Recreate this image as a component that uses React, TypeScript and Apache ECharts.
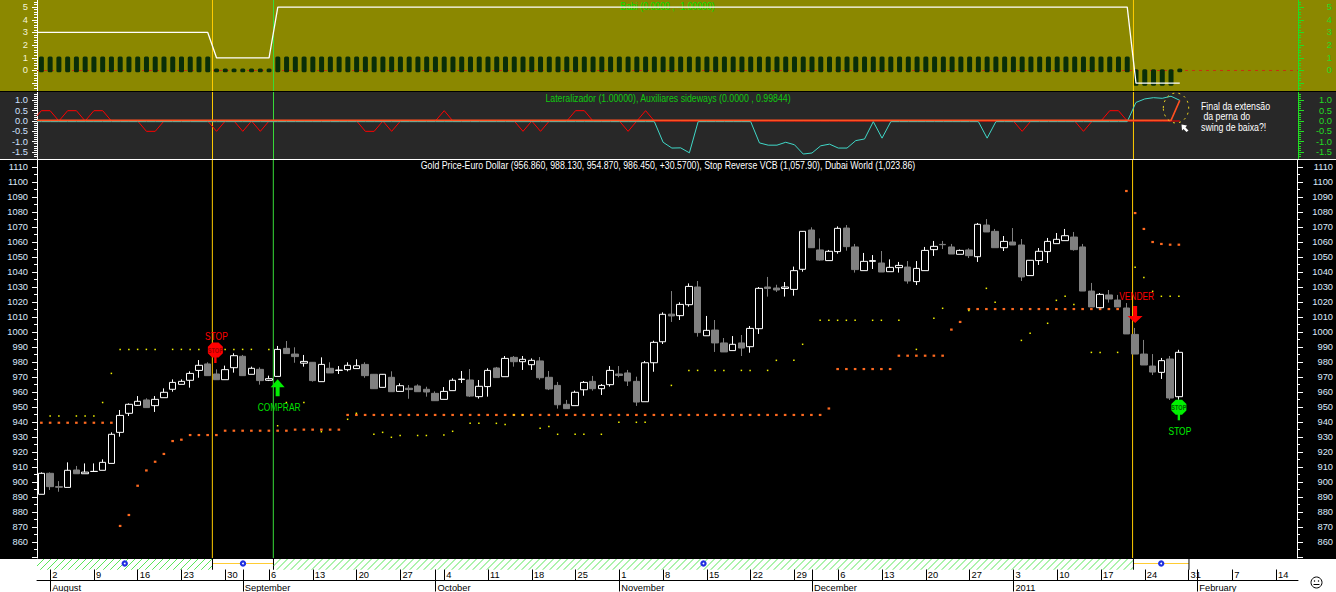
import React, { useEffect, useRef } from "react";
import * as echarts from "echarts";

const FONT = "'Liberation Sans', Arial, sans-serif";
const BAR_SLOTS = 144;

// [open, close, low, high] per trading day, from 2010-07-30
const candles: number[][] = [
  [891.8,905.8,891.8,906.4],[905.8,896.9,894.7,906.4],[896.9,896.5,893.5,900.6],[896.4,907.8,896.4,913.1],[908,905.5,905.5,910.7],
  [905.5,906.6,905.5,912.4],[907,907.1,907,912.4],[907.8,913.1,907.8,915.1],[912.4,931.8,912.4,933.1],[933.1,944.4,930.2,948],
  [945.8,951.8,944,952.4],[951.1,953.8,950.7,957.3],[954.7,949.6,949.6,955.8],[950.9,955.1,946.7,957.3],[956.2,959.8,956.2,962.4],
  [961.8,966.4,960.2,968.4],[965.1,967.1,965.1,968.4],[967.8,972.4,962.9,973.8],[974.4,977.8,969.5,981.3],[978.7,970.9,970.9,979.8],
  [972,968.2,968.2,975.1],[968.2,974.9,968.2,977.6],[976.2,984.2,972.9,985.8],[983.8,970.9,970.9,984.7],[971.8,975.8,971.8,976.9],
  [975.1,967.6,964.9,976.4],[967.8,968.9,967.3,970.9],[970.4,988.4,970.4,990.7],[989.1,985.6,985.6,994],[985.3,983.6,979.5,989.8],
  [979.2,980.4,976.9,984.7],[979.8,967.6,966.9,980],[966.9,978.4,966.9,983.1],[975.8,972.7,972.7,979.8],[974.4,974.6,972,977.3],
  [974.9,977.8,973.8,979.8],[975.6,977.5,975.6,981.8],[978.4,970.9,969.5,979.8],[971.8,962.2,962,972],[963.1,971.8,963,972],
  [969.8,960.2,960.2,973.8],[960.4,964.2,960.4,965.8],[962.5,961.6,955.5,964.6],[964,960.2,960.2,965.1],[961.8,960,956.9,963.5],
  [959.1,954.2,954,960.4],[955.1,960.4,955.1,963.3],[960.9,967.8,960.9,969.1],[968.3,968.6,966,974],[968,957.3,956.7,975.3],
  [956.9,963.8,955.6,968],[963.6,974.4,956.9,975.8],[976,969.6,969.6,976.7],[970.2,982.4,970.2,984],[983.1,980.2,976.9,984],
  [980.2,981.8,974.7,984],[978.2,981.1,974.7,982.4],[980.7,969.5,968.2,983.3],[969.8,962,961.3,974],[964.4,951.5,948.9,966.7],
  [951.8,948.9,948.9,954.7],[950.9,959.8,950.9,960.9],[961.5,966.4,957.5,967.3],[967.1,962.2,960.9,970.7],[962.2,964.4,958,965.3],
  [964.9,974.4,963.6,977.3],[972,971,969.8,977.3],[972.7,967.3,964,974.7],[967.1,953.3,950.7,970.2],[953.5,979.5,953.5,980.7],
  [979.5,993.1,973.5,994.2],[993.5,1011.8,992,1013.1],[1011.9,1010.7,1006.7,1027.3],[1010.9,1018.4,1008,1019.8],[1018.2,1030.4,1016.9,1032.4],
  [1030,999.6,996.9,1034],[997.5,1001.1,997.5,1010.7],[1001.3,992.7,986.7,1008],[992.7,986.7,986.7,996],[987.6,991.8,987.6,997.3],
  [992.7,989.3,984,998],[990.2,1002.4,986.2,1004],[1002.2,1029.1,998.7,1030],[1030,1029,1023.6,1036.7],[1029.3,1028,1026.7,1031.5],
  [1029,1030,1023.6,1033.3],[1028.4,1040.9,1024.2,1043.6],[1041.8,1067.1,1040.2,1067.3],[1068,1056.2,1056,1069.8],[1054.7,1048,1047.6,1062.4],
  [1047.6,1053.8,1047.6,1054.7],[1053.6,1069.1,1052.2,1070.4],[1069.3,1056.9,1054.2,1071.3],[1056.7,1041.6,1039.6,1058.7],[1040.9,1047.1,1040.9,1052.7],
  [1047.1,1047.6,1042,1051.3],[1046,1040,1040,1054],[1040.2,1043.1,1040.2,1048.4],[1042.9,1044.4,1039.6,1046.7],[1043.3,1034,1032.2,1047.3],
  [1033.6,1042.4,1031.3,1047.3],[1040.9,1054.4,1040.9,1056.7],[1054.9,1057.1,1050.7,1060.7],[1058.4,1058.2,1055.3,1060.7],[1056.7,1052,1052,1058.7],
  [1051.8,1054.4,1051.8,1055],[1054.7,1050.9,1049.3,1055.8],[1050.2,1071.8,1046.7,1072.7],[1071.3,1066.7,1066.7,1075.3],[1067.1,1056.2,1056.2,1068.7],
  [1056.2,1060.4,1054,1064],[1060,1058,1058,1069.3],[1058,1036.7,1034,1062],[1037.6,1047.8,1037.6,1048],[1047.6,1053.8,1044.7,1056],
  [1053.6,1060.4,1046,1062.7],[1058.9,1061.8,1058.9,1066],[1060.9,1064.2,1060.9,1068.7],[1063.3,1054.9,1054.2,1066.7],[1056.7,1027.3,1027.3,1058.7],
  [1027.3,1016.7,1016.7,1032.7],[1016.2,1025.1,1016.2,1026],[1024.7,1022,1019.6,1028],[1021.3,1016.7,1016.7,1024.7],[1016,998.7,998.7,1019.3],
  [998.4,985.3,985.3,1002.7],[985.3,978,978,994.7],[977.3,973.3,971.3,985.3],[973.1,980.9,968.7,982.7],[982,956,954.7,984],
  [956.86,986.45,954.87,988.13],
];

const stopReverse = [
  939.5,939.5,939.5,939.5,939.5,939.5,939.5,939.5,939.5,870.7,878,897.5,907.7,913.5,918.7,927.3,928.2,931.3,931.3,931.3,931.3,
  934.2,934.2,934.2,934.2,934.2,934.2,934.2,934.2,934.9,934.9,934.9,934.9,934.9,934.9,
  944.7,944.7,944.7,944.7,944.7,944.7,944.7,944.7,944.7,944.7,944.7,944.7,944.7,944.7,944.7,944.7,944.7,944.7,944.7,944.7,
  944.7,944.7,944.7,944.7,944.7,944.7,944.7,944.7,944.7,944.7,944.7,944.7,944.7,944.7,944.7,944.7,944.7,944.7,944.7,944.7,
  944.7,944.7,944.7,944.7,944.7,944.7,944.7,944.7,944.7,944.7,944.7,944.7,944.7,944.7,944.7,
  949,975.3,975.3,975.3,975.3,975.3,975.3,975.3,984.2,984.2,984.2,984.2,984.2,984.2,1001.6,1006.7,
  1015.3,1015.3,1015.3,1015.3,1015.3,1015.3,1015.3,1015.3,1015.3,1015.3,1015.3,1015.3,1015.3,1015.3,1015.3,1015.3,1015.3,1015.3,
  1094,1079.3,1068.7,1060,1058.7,1058.2,1058.2,
];

const dubaiWorld: number[][] = [
  [1,944],[2,944],[4,944],[5,944],[6,944],[7,953],[8,972.4],[9,988.4],[10,988.4],[11,988.4],[12,988.4],[13,988.4],[15,988.4],[16,988.4],[17,988.4],[18,988.4],
  [21,988.4],[22,988.4],[23,988.4],[24,988.4],[26,988.4],[27,937.5],[28,953],[30,953],[32,933.5],[35,941.8],[36,945.8],[38,931.8],[39,933.1],[40,929.8],[41,931],[43,931],[44,931],
  [46,931.3],[47,933.8],[49,939.1],[50,939.1],[52,939.1],[53,938.4],[54,944.7],[55,944.7],[57,935.8],[58,937],[59,931.8],[61,931.8],[62,931.8],[64,931.8],[66,939.8],[68,939.8],[69,939.8],
  [72,964.4],[74,974.4],[75,974.4],[77,974.4],[78,974.4],[80,974.4],[81,974.4],[83,974.4],[84,981.1],[86,981.1],[87,991.8],[89,1007.8],[90,1007.8],[91,1007.8],[92,1007.8],[93,1007.8],
  [95,1007.8],[96,1007.8],[98,1007.8],[100,988.4],[102,1009.1],[103,1015.8],[106,1014.4],[108,1029.1],[109,1019.8],[112,994.4],[113,999.1],[115,1005.8],[116,1021.1],[117,1023.8],[118,1018.4],
  [120,986.4],[121,986.4],[123,986.4],[125,1043.1],[126,1036.4],[127,1027.1],[128,1023.8],[129,1023.8],[130,1023.8],
];

const babiLine = [
  3,3,3,3,3,3,3,3,3,3,
  3,3,3,3,3,3,3,3,3,3,
  1,1,1,1,1,1,1,
  5,5,5,5,5,5,5,5,5,5,
  5,5,5,5,5,5,5,5,5,5,
  5,5,5,5,5,5,5,5,5,5,
  5,5,5,5,5,5,5,5,5,5,
  5,5,5,5,5,5,5,5,5,5,
  5,5,5,5,5,5,5,5,5,5,
  5,5,5,5,5,5,5,5,5,5,
  5,5,5,5,5,5,5,5,5,5,
  5,5,5,5,5,5,5,5,5,5,
  5,5,5,5,5,5,5,5,
  -1,-1,-1,-1,-1,-1,
];
const babiBars = [
  1,1,1,1,1,1,1,1,1,1,
  1,1,1,1,1,1,1,1,1,1,
  0,0,0,0,0,0,0,
  1,1,1,1,1,1,1,1,1,1,
  1,1,1,1,1,1,1,1,1,1,
  1,1,1,1,1,1,1,1,1,1,
  1,1,1,1,1,1,1,1,1,1,
  1,1,1,1,1,1,1,1,1,1,
  1,1,1,1,1,1,1,1,1,1,
  1,1,1,1,1,1,1,1,1,1,
  1,1,1,1,1,1,1,1,1,1,
  1,1,1,1,1,1,1,1,1,1,
  1,1,1,1,1,1,1,1,
  -1,-1,-1,-1,-1,0,
];

const lateralRed = [
  0.5,0.5,0,0.5,0.5,0,0.5,0.5,0,0,0,0,-0.5,-0.5,0,0,0,0,0,0,-0.5,0,0,-0.5,0,-0.5,0,0,0,0,0,0,0,0,0,0,0,-0.5,-0.5,0,-0.5,0,0,0,0,0,0.5,0,
  0,0,0,0,0,0,0,-0.5,0,-0.5,0,0,0,0.5,0.5,0,0,0,0,-0.5,0,0.5,0,0,0,0,0,0,0,0,0,0,0,0,0,0,0,0,0,0,0,0,0,0,0,0,0,0,0,0,0,0,
  0,0,0,0,0,0,0,0,0,0,0,0,-0.5,0,0,0,0,0,0,-0.5,0,0,0.5,0.5,0,0,0,0,0,0,0,
];
const auxiliaresCyan = [
  0,0,0,0,0,0,0,0,0,0,0,0,0,0,0,0,0,0,0,0,0,0,0,0,0,0,0,0,0,0,0,0,0,0,0,0,0,0,0,0,0,0,0,0,0,0,0,0,0,0,0,0,0,0,0,0,0,0,0,0,0,0,0,0,0,0,0,0,0,0,0,
  -1.03,-1.31,-1.3,-1.54,0,0,0,0,0,0,0,-1.06,-1.17,-1.17,-1.03,-1.15,-1.6,-1.55,-1.2,-1.12,-1.31,-1.31,-0.95,-0.87,0,-0.83,0,
  0,0,0,0,0,0,0,0,0,0,-0.83,0,0,0,0,0,0,0,0,0,0,0,0,0,0,0,0,0.9,1.07,1.13,1.1,1.2,1,
];
const lateralOrangeTail = [0, 1];

const weekLabels = ["2","9","16","23","30","6","13","20","27","4","11","18","25","1","8","15","22","29","6","13","20","27","3","10","17","24","31","7","14"];
const monthLabels = ["August","September","October","November","December","2011","February"];
const monthBars = [1, 23, 45, 66, 88, 111, 132];
const firstMondayBar = 1;

// vertical markers: slot position on the bar scale
const vLines = [
  { at: 19.54, color: "#ffcc00" },
  { at: 26.507, color: "#38dc38" },
  { at: 124.71, color: "#ffcc00" },
];
// x-strip zones: [from, to, hatched?]
const zones: number[][] = [
  [-0.5, 19.54, 1],
  [19.54, 26.507, 0],
  [26.507, 124.71, 1],
  [124.71, 131.05, 0],
];
// signals: [bar, price, kind]
const signals: number[][] = [
  [20, 988, 0],
  [27, 968.5, 1],
  [125, 1017.3, 2],
  [130, 949.8, 3],
];

const PRICE_MIN = 849.33, PRICE_MAX = 1114.67;
const priceMajor = [850,860,870,880,890,900,910,920,930,940,950,960,970,980,990,1000,1010,1020,1030,1040,1050,1060,1070,1080,1090,1100,1110];
const priceLabels = priceMajor.slice(1);
const priceMinor = [855,865,875,885,895,905,915,925,935,945,955,965,975,985,995,1005,1015,1025,1035,1045,1055,1065,1075,1085,1095,1105];
const p1Major = [-1,0,1,2,3,4,5];
const p1Labels = [0,1,2,3,4,5];
const p1Minor = [-1.4,-1.2,-0.8,-0.6,-0.4,-0.2,0.2,0.4,0.6,0.8,1.2,1.4,1.6,1.8,2.2,2.4,2.6,2.8,3.2,3.4,3.6,3.8,4.2,4.4,4.6,4.8,5.2,5.4];
const p2Major = [-1.5,-1,-0.5,0,0.5,1];
const p2LabelsA = [-1,0,1];
const p2LabelsB = [-1.5,-0.5,0.5];
const p2Minor = [-1.7,-1.6,-1.4,-1.3,-1.2,-1.1,-0.9,-0.8,-0.7,-0.6,-0.4,-0.3,-0.2,-0.1,0.1,0.2,0.3,0.4,0.6,0.7,0.8,0.9,1.1,1.2,1.3];

const categories = Array.from({ length: BAR_SLOTS }, (_, i) => String(i));
const weekData = categories.map((_, i) =>
  i >= firstMondayBar && (i - firstMondayBar) % 5 === 0 ? weekLabels[(i - firstMondayBar) / 5] ?? "" : ""
);
const monthData = categories.map((_, i) => {
  const k = monthBars.indexOf(i);
  return k >= 0 ? monthLabels[k] : "";
});

function yAxesFor(
  gridIndex: number, min: number, max: number,
  major: number[], labels: number[], labelsB: number[], minor: number[],
  rightColor: string, rightLabel: string, leftLabel: string,
  fmt: (v: number) => string, rightMargin: number
) {
  const base = { type: "value", gridIndex, min, max, splitLine: { show: false }, scale: true };
  const mk = (position: string, ticks: number[], len: number, color: string, vals: number[], lc: string, margin: number, withLine: boolean) => ({
    ...base,
    position,
    axisLine: { show: withLine, onZero: false, lineStyle: { color, width: 1 } },
    axisTick: { show: true, customValues: ticks, length: len, lineStyle: { color, width: 1 } },
    axisLabel: vals.length
      ? { show: true, customValues: vals, color: lc, fontFamily: FONT, fontSize: 9.3, margin, align: "right", formatter: fmt, hideOverlap: false }
      : { show: false },
  });
  return [
    mk("left", major, 5, "#ffffff", labels, leftLabel, 9, true),
    mk("left", minor, 3, "#ffffff", labelsB, leftLabel, 9, false),
    mk("right", major, 6, rightColor, labels, rightLabel, rightMargin, true),
    mk("right", minor, 3, rightColor, labelsB, rightLabel, rightMargin, false),
  ];
}

const valX = (gridIndex: number) => ({ type: "value", gridIndex, min: -0.5, max: BAR_SLOTS - 0.5, show: false });

function vLineSeries(xAxisIndex: number, yAxisIndex: number, lo: number, hi: number) {
  return vLines.map((v) => ({
    type: "line", xAxisIndex, yAxisIndex, silent: true, symbol: "none",
    lineStyle: { color: v.color, width: 1 }, data: [[v.at, lo], [v.at, hi]], z: 3,
  }));
}

const sigText = (text: string, x: number, y: number, fill: string, fontSize = 10.5, fontWeight = "normal") => ({
  type: "text", x, y, scaleX: 0.8,
  style: { text, fill, fontFamily: FONT, fontSize, fontWeight, align: "center", verticalAlign: "middle" },
});

function stopSign(x: number, y: number, fill: string, ink: string, top: string | null, bottom: string | null) {
  const r = 7.5, k = 3.2;
  const kids: any[] = [
    { type: "rect", shape: { x: x - 1.2, y: y + 5, width: 2.4, height: 8 }, style: { fill } },
    { type: "polygon", shape: { points: [[x-k,y-r],[x+k,y-r],[x+r,y-k],[x+r,y+k],[x+k,y+r],[x-k,y+r],[x-r,y+k],[x-r,y-k]] }, style: { fill } },
    sigText("STOP", x, y, ink, 7, "bold"),
  ];
  if (top) kids.push(sigText(top, x + 1, y - 13.5, fill));
  if (bottom) kids.push(sigText(bottom, x + 1, y + 24, fill));
  return kids;
}

function renderSignal(_: any, api: any) {
  const [x, y] = api.coord([api.value(0), api.value(1)]);
  const kind = api.value(2);
  let children: any[] = [];
  if (kind === 0) children = stopSign(x - 1, y, "#ff0000", "#a00000", "STOP", null);
  if (kind === 3) children = stopSign(x, y, "#00f000", "#006000", null, "STOP");
  if (kind === 1) {
    children = [
      { type: "polygon", shape: { points: [[x,y],[x+7,y+8],[x+2,y+8],[x+2,y+17],[x-2,y+17],[x-2,y+8],[x-7,y+8]] }, style: { fill: "#00f000" } },
      sigText("COMPRAR", x + 1.5, y + 27.5, "#00e000"),
    ];
  }
  if (kind === 2) {
    children = [
      { type: "polygon", shape: { points: [[x,y+17],[x+7.5,y+10],[x+2,y+10],[x+2,y],[x-2,y],[x-2,y+10],[x-7.5,y+10]] }, style: { fill: "#ff0000" } },
      sigText("VENDER", x + 1.5, y - 9.5, "#ff0000"),
    ];
  }
  return { type: "group", children };
}

function renderZone(_: any, api: any) {
  const a = api.coord([api.value(0), 1]);
  const b = api.coord([api.value(1), 0.5]);
  const hatched = api.value(2) === 1;
  const top = a[1], bot = b[1], lx = a[0], rx = b[0];
  const h = bot - top;
  const children: any[] = [];
  if (hatched) {
    for (let sx = lx - h; sx < rx; sx += 7) {
      let x1 = sx, y1 = bot, x2 = sx + h, y2 = top;
      if (x1 < lx) { y1 = bot - (lx - x1); x1 = lx; }
      if (x2 > rx) { y2 = top + (x2 - rx); x2 = rx; }
      children.push({ type: "line", shape: { x1, y1, x2, y2 }, style: { stroke: "#30e030", lineWidth: 0.8 } });
    }
  } else {
    const my = top + 4.5;
    children.push({ type: "line", shape: { x1: lx, y1: my, x2: rx, y2: my }, style: { stroke: "#ffcc33", lineWidth: 1 } });
    children.push({ type: "line", shape: { x1: lx, y1: top, x2: lx, y2: bot }, style: { stroke: "#000", lineWidth: 1 } });
    children.push({ type: "line", shape: { x1: rx, y1: top, x2: rx, y2: bot }, style: { stroke: "#000", lineWidth: 1 } });
  }
  const cx = (lx + rx) / 2;
  children.push({ type: "circle", shape: { cx, cy: top + 4.5, r: 3.2 }, style: { fill: "#2030e0" } });
  children.push({ type: "circle", shape: { cx, cy: top + 4.5, r: 0.9 }, style: { fill: "#ffffff" } });
  return { type: "group", children };
}

function renderBabiBar(_: any, api: any) {
  const i = api.value(0), v = api.value(1);
  const hi = v === 1 ? 1.1 : v === 0 ? 0.15 : 0.1;
  const lo = v === 1 ? -0.15 : v === 0 ? -0.15 : -1.2;
  const a = api.coord([i, hi]), b = api.coord([i, lo]);
  return { type: "rect", shape: { x: a[0] - 2.5, y: a[1], width: 5, height: b[1] - a[1], r: 1.5 }, style: { fill: "#0a2e08" } };
}

export default function App() {
  const ref = useRef<HTMLDivElement>(null);
  useEffect(() => {
    document.body.style.margin = "0";
    document.body.style.background = "#fff";
    const chart = echarts.init(ref.current!, undefined, { renderer: "svg" });
    const txt = (text: string, x: number, y: number, fill: string, align = "center", z = 50) => ({
      type: "text", z, x, y, scaleX: 0.835,
      style: { text, fill, align, verticalAlign: "middle", fontFamily: FONT, fontSize: 10.5 },
    });
    const rect = (x: number, y: number, width: number, height: number, fill: string, z = -1) => ({
      type: "rect", z, shape: { x, y, width, height }, style: { fill }, silent: true,
    });
    chart.setOption({
      animation: false,
      backgroundColor: "#ffffff",
      grid: [
        { left: 37, width: 1261, top: 0, height: 91 },
        { left: 37, width: 1261, top: 92, height: 67 },
        { left: 37, width: 1261, top: 160, height: 398 },
        { left: 37, width: 1261, top: 559, height: 22 },
      ],
      xAxis: [
        valX(0),
        valX(1),
        valX(2),
        { type: "category", gridIndex: 2, data: categories, show: false },
        valX(3),
        {
          type: "category", gridIndex: 3, data: weekData, position: "bottom",
          axisLine: { show: true, lineStyle: { color: "#000", width: 1 } },
          axisTick: { show: true, inside: true, length: 11, alignWithLabel: true, lineStyle: { color: "#000" },
            interval: (i: number) => weekData[i] !== "" || monthData[i] !== "" },
          axisLabel: { inside: true, margin: 1, color: "#000", fontFamily: FONT, fontSize: 9.3, align: "left", padding: [0, 0, 0, 2],
            interval: (i: number) => weekData[i] !== "", hideOverlap: false },
        },
        {
          type: "category", gridIndex: 3, data: monthData, position: "bottom",
          axisLine: { show: false },
          axisTick: { show: true, length: 11, alignWithLabel: true, lineStyle: { color: "#000" },
            interval: (i: number) => monthData[i] !== "" },
          axisLabel: { margin: 2.5, color: "#000", fontFamily: FONT, fontSize: 9.3, align: "left", padding: [0, 0, 0, 2],
            interval: (i: number) => monthData[i] !== "", hideOverlap: false },
        },
      ],
      yAxis: [
        ...yAxesFor(0, -1.62, 5.56, p1Major, p1Labels, [], p1Minor, "#22dd22", "#22dd22", "#f4f4d8", (v) => String(v), 34),
        ...yAxesFor(1, -1.84, 1.405, p2Major, p2LabelsA, p2LabelsB, p2Minor, "#22dd22", "#22dd22", "#cfe0ff", (v) => v.toFixed(1), 34),
        ...yAxesFor(2, PRICE_MIN, PRICE_MAX, priceMajor, priceLabels, [], priceMinor, "#ffffff", "#dbe8fa", "#dbe8fa", (v) => String(v), 36),
        { type: "value", gridIndex: 3, min: 0, max: 1, show: false },
      ],
      series: [
        // Panel 1
        { type: "line", xAxisIndex: 0, yAxisIndex: 0, silent: true, symbol: "none", z: 1,
          lineStyle: { color: "#c83010", width: 1, type: [3, 4] }, data: [[-0.5, 0], [BAR_SLOTS - 0.5, 0]] },
        { type: "custom", xAxisIndex: 0, yAxisIndex: 0, silent: true, z: 2, renderItem: renderBabiBar,
          encode: { x: 0, y: 1 }, data: babiBars.map((v, i) => [i, v]) },
        { type: "line", xAxisIndex: 0, yAxisIndex: 0, silent: true, symbol: "none", z: 4,
          lineStyle: { color: "#ffffff", width: 1.3 }, data: [[-0.5, babiLine[0]], ...babiLine.map((v, i) => [i, v])] },
        ...vLineSeries(0, 0, -1.62, 5.56),
        // Panel 2
        { type: "line", xAxisIndex: 1, yAxisIndex: 4, silent: true, symbol: "none", z: 4,
          lineStyle: { color: "#ff0000", width: 1 }, data: [[-0.5, 0.25], ...lateralRed.map((v, i) => [i, v])] },
        { type: "line", xAxisIndex: 1, yAxisIndex: 4, silent: true, symbol: "none", z: 4,
          lineStyle: { color: "#40d8c8", width: 1 }, data: [[-0.5, -0.03], ...auxiliaresCyan.map((v, i) => [i, v === 0 ? -0.03 : v])] },
        { type: "line", xAxisIndex: 1, yAxisIndex: 4, silent: true, symbol: "none", z: 5,
          lineStyle: { color: "#ff5020", width: 1.6 }, data: [[-0.5, 0.03], [129, 0.03 + lateralOrangeTail[0]], [130, lateralOrangeTail[1]]] },
        ...vLineSeries(1, 4, -1.84, 1.405),
        // Panel 3
        ...vLineSeries(2, 8, PRICE_MIN, PRICE_MAX),
        { type: "scatter", xAxisIndex: 2, yAxisIndex: 8, silent: true, symbol: "rect", symbolSize: [2.6, 2.2], z: 3,
          itemStyle: { color: "#ff6a20", opacity: 1 }, data: stopReverse.map((v, i) => [i, v]) },
        { type: "scatter", xAxisIndex: 2, yAxisIndex: 8, silent: true, symbol: "rect", symbolSize: 1.5, z: 3,
          itemStyle: { color: "#f4f400", opacity: 1 }, data: dubaiWorld },
        { type: "candlestick", xAxisIndex: 3, yAxisIndex: 8, silent: true, barWidth: 7, z: 4,
          itemStyle: { color: "#000000", color0: "#808080", borderColor: "#ffffff", borderColor0: "#808080", borderWidth: 1 },
          data: candles },
        { type: "custom", xAxisIndex: 2, yAxisIndex: 8, silent: true, z: 6, renderItem: renderSignal,
          encode: { x: 0, y: 1 }, data: signals },
        // Strip
        { type: "custom", xAxisIndex: 4, yAxisIndex: 12, silent: true, z: 2, renderItem: renderZone,
          encode: { x: [0, 1] }, data: zones },
      ],
      graphic: [
        rect(0, 0, 1336, 91, "#8b8800"),
        rect(0, 91, 1336, 68, "#282828"),
        rect(0, 159, 1336, 400, "#000000"),
        rect(0, 91, 1336, 1, "#000000", 40),
        rect(0, 159, 1336, 1, "#ffffff", 40),
        txt("Babi (0.0000 , -1.00000)", 667.5, 6, "#00e000", "center", 1),
        txt("Lateralizador (1.00000), Auxiliares sideways (0.0000 , 0.99844)", 668, 98, "#10c810"),
        txt("Gold Price-Euro Dollar (956.860, 988.130, 954.870, 986.450, +30.5700), Stop Reverse VCB (1,057.90), Dubai World (1,023.86)", 668, 165.5, "#ffffff"),
        txt("Final da extensão", 1201, 106, "#ffffff", "left"),
        txt(" da perna do", 1201, 116, "#ffffff", "left"),
        txt("swing de baixa?!", 1201, 127, "#ffffff", "left"),
        { type: "ellipse", z: 45, shape: { cx: 1176, cy: 108, rx: 12.7, ry: 15 }, style: { fill: "none", stroke: "#e8d020", lineWidth: 1, lineDash: [2, 4] } },
        { type: "polygon", z: 45, shape: { points: [[1181.5, 124.5], [1187, 125.5], [1185.5, 127.5], [1188.5, 130.5], [1186.5, 132], [1183.5, 129], [1182, 130.5]] }, style: { fill: "#ffffff" } },
        { type: "circle", z: 45, shape: { cx: 1316.5, cy: 582.5, r: 5.5 }, style: { fill: "#ffffff", stroke: "#000", lineWidth: 1 } },
        { type: "circle", z: 46, shape: { cx: 1314.5, cy: 581, r: 0.7 }, style: { fill: "#000" } },
        { type: "circle", z: 46, shape: { cx: 1318.5, cy: 581, r: 0.7 }, style: { fill: "#000" } },
        { type: "line", z: 46, shape: { x1: 1313.5, y1: 584.5, x2: 1319.5, y2: 584.5 }, style: { stroke: "#000", lineWidth: 1 } },
      ],
    });
    return () => chart.dispose();
  }, []);
  return <div ref={ref} style={{ position: "absolute", left: 0, top: 0, width: 1336, height: 592 }} />;
}
